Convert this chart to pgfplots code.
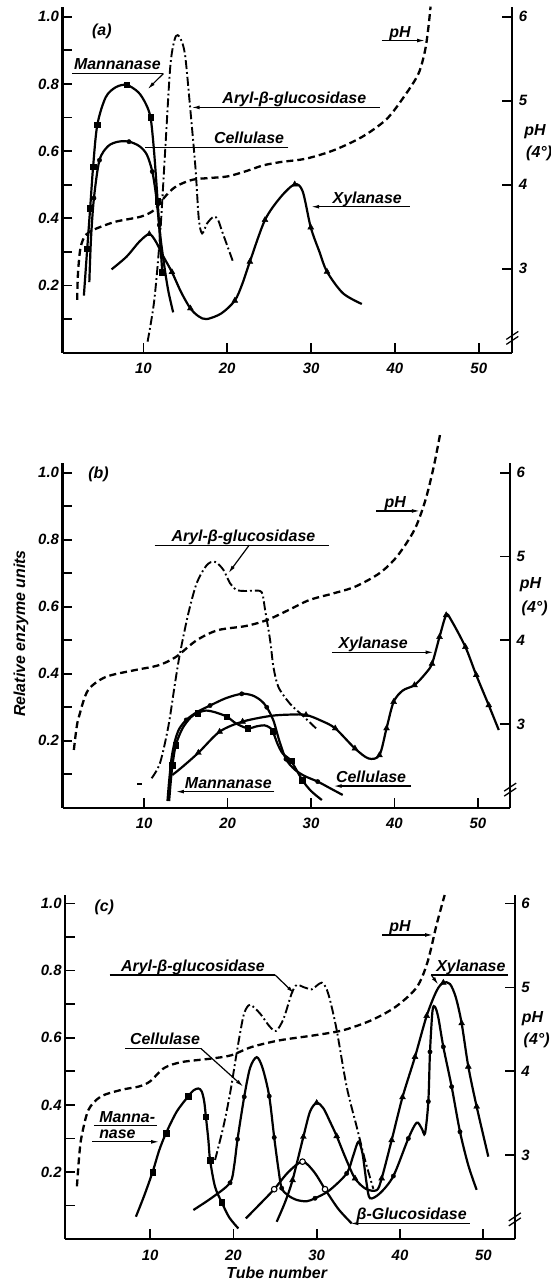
\documentclass[border=0pt]{standalone}
\usepackage{fontspec}
\setmainfont{Liberation Sans}
\usepackage{pgfplots}
\pgfplotsset{compat=1.18}
\usetikzlibrary{arrows.meta}

\newcommand{\lab}{\fontsize{16}{18}\selectfont\bfseries\itshape}
\newcommand{\tk}{\fontsize{15}{17}\selectfont\bfseries\itshape}

\tikzset{
  ann/.style={line width=1.2bp},
  arr/.style={line width=1.2bp,-{Latex[length=8bp,width=3.8bp]}},
  ul/.style={font=\lab,anchor=base,yshift=3.5bp},
  brk/.style={line width=1.3bp},
}
\pgfplotsset{
  base/.style={scale only axis, clip=false, anchor=south west,
    axis line style={line width=2.2bp,-},
    tick style={line width=1.7bp,black},
    major tick length=10bp, minor tick length=10bp, tick align=inside,
    ticklabel style={font=\tk},
    /pgf/number format/assume math mode=true},
  leftax/.style={base, axis x line*=bottom, axis y line*=left,
    xtick={10,20,30,40,50},
    ytick={0.2,0.4,0.6,0.8,1.0},
    minor ytick={0.1,0.3,0.5,0.7,0.9},
    ymin=0,
    yticklabel style={/pgf/number format/.cd,fixed,fixed zerofill,precision=1},
    xticklabel style={yshift=-7bp}},
  rightax/.style={base, axis x line=none, axis y line*=right,
    ytick={3,4,5,6}, ymin=2, yticklabel style={xshift=3bp}},
  sol/.style={black, line width=2.2bp, smooth, tension=0.5, mark=none},
  phl/.style={black, line width=2.3bp, smooth, tension=0.5, mark=none, dash pattern=on 7bp off 4bp},
  ary/.style={black, line width=1.9bp, smooth, tension=0.5, mark=none, dash pattern=on 9bp off 3bp on 1.8bp off 3bp},
  msq/.style={black, only marks, mark=square*, mark size=2.8bp},
  mtr/.style={black, only marks, mark=triangle*, mark size=3.4bp},
  mci/.style={black, only marks, mark=*, mark size=2.2bp},
  mop/.style={black, only marks, mark=*, mark size=2.8bp, mark options={fill=white, line width=1.1bp}},
}

\begin{document}
\begin{tikzpicture}
\useasboundingbox (0,0) rectangle (551bp,-1283bp);

%%%%%%%%%%%%%%%%%%%% Panel (a)
\begin{axis}[leftax, at={(62.5bp,-352.7bp)}, width=449.8bp, height=346.1bp,
  xmin=0.35, xmax=54, ymax=1.03]
% Mannanase
\addplot[sol] coordinates {(2.9,0.17)(3.1,0.24)(3.3,0.31)(3.65,0.43)(4.0,0.553)(4.5,0.678)(5.5,0.76)(6.7,0.79)(8.0,0.797)(9.4,0.775)(10.3,0.74)(10.85,0.70)(11.2,0.62)(11.45,0.54)(11.7,0.45)(11.95,0.35)(12.25,0.24)};
\addplot[msq] coordinates {(3.3,0.31)(3.65,0.43)(4.0,0.553)(4.5,0.678)(8.0,0.797)(10.85,0.70)(11.7,0.45)(12.25,0.24)};
% Cellulase
\addplot[sol] coordinates {(3.55,0.21)(3.75,0.34)(4.1,0.46)(4.76,0.573)(5.8,0.615)(7.0,0.628)(8.28,0.628)(9.5,0.615)(10.4,0.59)(11.06,0.539)(11.5,0.47)(11.8,0.40)(12.1,0.33)(12.6,0.24)(13.0,0.18)(13.55,0.12)};
\addplot[mci] coordinates {(4.1,0.46)(4.76,0.573)(8.28,0.628)(11.06,0.539)(11.9,0.38)};
% Xylanase
\addplot[sol] coordinates {(6.2,0.248)(8.0,0.286)(9.5,0.33)(10.7,0.353)(11.5,0.33)(12.3,0.29)(13.4,0.24)(14.5,0.18)(15.6,0.132)(16.6,0.108)(17.55,0.100)(19.3,0.117)(20.9,0.155)(21.8,0.205)(22.7,0.271)(24.5,0.395)(26.4,0.464)(28.05,0.501)(29.0,0.48)(29.96,0.373)(31.0,0.30)(31.9,0.241)(33.8,0.177)(36.05,0.145)};
\addplot[mtr] coordinates {(10.7,0.353)(13.4,0.24)(15.6,0.132)(20.9,0.155)(22.7,0.271)(24.5,0.395)(28.05,0.501)(29.96,0.373)(31.9,0.241)};
% Aryl-beta-glucosidase
\addplot[ary] coordinates {(10.5,0.033)(11.3,0.157)(12.0,0.355)(12.6,0.603)(13.2,0.85)(13.7,0.93)(14.1,0.945)(14.6,0.925)(15.0,0.88)(15.5,0.75)(16.2,0.553)(16.6,0.40)(17.0,0.355)(17.6,0.385)(18.4,0.405)(18.9,0.395)(19.4,0.36)(20.7,0.27)};
% annotations
\node[font=\lab] at (axis cs:5.05,0.955) {(a)};
\node[ul] at (axis cs:6.9,0.831) {Mannanase};
\draw[ann] (axis cs:1.49,0.831) -- (axis cs:12.39,0.831);
\draw[arr] (axis cs:12.39,0.831) -- (axis cs:10.5,0.784);
\node[ul] at (axis cs:28.0,0.730) {Aryl-β-glucosidase};
\draw[arr] (axis cs:38.2,0.730) -- (axis cs:15.74,0.730);
\node[ul] at (axis cs:22.6,0.611) {Cellulase};
\draw[ann] (axis cs:27.3,0.611) -- (axis cs:10.2,0.611);
\node[ul] at (axis cs:36.7,0.4345) {Xylanase};
\draw[arr] (axis cs:41.74,0.4345) -- (axis cs:30.0,0.4345);
\node[ul] at (axis cs:40.6,0.929) {pH};
\draw[arr] (axis cs:38.4,0.929) -- (axis cs:43.6,0.929);
\end{axis}
\begin{axis}[rightax, at={(62.5bp,-352.7bp)}, width=449.8bp, height=346.1bp,
  xmin=0.35, xmax=54, ymax=6.12]
\addplot[phl] coordinates {(2.1,2.63)(2.2,2.95)(2.5,3.25)(3.1,3.40)(4.2,3.47)(6.7,3.56)(9.7,3.62)(11.3,3.70)(12.6,3.86)(13.9,3.98)(15.9,4.06)(18.0,4.08)(20.1,4.10)(22.2,4.16)(24.3,4.23)(26.4,4.27)(29.4,4.31)(32.7,4.41)(36.1,4.57)(39.0,4.78)(41.1,5.05)(42.8,5.32)(43.6,5.6)(44.0,5.88)(44.25,6.12)};
\node[font=\lab] at (axis cs:56.7,4.63) {pH};
\node[font=\lab] at (axis cs:57.2,4.37) {(4°)};
\draw[brk] ([xshift=-6bp,yshift=-6bp]axis cs:54,2.17) -- ([xshift=6bp,yshift=2bp]axis cs:54,2.17);
\draw[brk] ([xshift=-6bp,yshift=-1bp]axis cs:54,2.17) -- ([xshift=6bp,yshift=7bp]axis cs:54,2.17);
\end{axis}

%%%%%%%%%%%%%%%%%%%% Panel (b)
\begin{axis}[leftax, at={(62.5bp,-807.7bp)}, width=447.7bp, height=345bp,
  xmin=0.22, xmax=53.87, ymax=1.03]
% Mannanase
\addplot[sol] coordinates {(13.0,0.02)(13.2,0.08)(13.4,0.127)(13.8,0.187)(14.6,0.237)(15.6,0.27)(16.4,0.283)(17.4,0.29)(18.5,0.285)(19.9,0.272)(21.0,0.252)(22.4,0.237)(23.5,0.243)(24.4,0.246)(25.0,0.24)(25.4,0.229)(26.0,0.19)(26.6,0.162)(27.6,0.14)(28.95,0.083)(30.0,0.05)(31.3,0.023)};
\addplot[msq] coordinates {(13.4,0.127)(13.8,0.187)(16.4,0.283)(19.9,0.272)(22.4,0.237)(25.4,0.229)(27.6,0.14)(28.95,0.083)};
% Cellulase
\addplot[sol] coordinates {(12.8,0.02)(13.0,0.08)(13.3,0.15)(13.7,0.2)(14.2,0.235)(15.05,0.262)(16.3,0.285)(17.9,0.305)(19.8,0.327)(21.7,0.34)(23.0,0.335)(24.0,0.32)(24.7,0.30)(25.5,0.26)(26.2,0.20)(27.0,0.145)(28.0,0.115)(29.2,0.095)(30.8,0.078)(32.3,0.058)(33.8,0.038)};
\addplot[mci] coordinates {(15.05,0.262)(17.9,0.305)(21.7,0.34)(24.7,0.30)(27.0,0.145)(30.8,0.078)};
% Xylanase
\addplot[sol] coordinates {(13.37,0.0975)(14.5,0.12)(16.5,0.164)(19.05,0.227)(21.8,0.257)(25.15,0.274)(27.5,0.278)(29.4,0.277)(31.2,0.26)(32.9,0.237)(35.26,0.177)(36.9,0.147)(38.2,0.157)(39.05,0.237)(39.9,0.316)(41.0,0.35)(42.4,0.366)(43.7,0.40)(44.5,0.43)(45.4,0.51)(46.2,0.575)(46.8,0.56)(48.5,0.48)(49.8,0.396)(51.3,0.306)(52.5,0.232)};
\addplot[mtr] coordinates {(16.5,0.164)(19.05,0.227)(21.8,0.257)(29.4,0.277)(32.9,0.237)(35.26,0.177)(38.2,0.157)(39.05,0.237)(39.9,0.316)(42.4,0.366)(44.5,0.43)(45.4,0.51)(46.2,0.575)(48.5,0.48)(49.8,0.396)(51.3,0.306)};
% Aryl-beta-glucosidase
\addplot[ary] coordinates {(9.15,0.072)(9.7,0.072)};
\addplot[ary] coordinates {(10.9,0.088)(11.9,0.133)(12.9,0.242)(13.7,0.371)(14.3,0.461)(15.3,0.58)(16.3,0.67)(17.5,0.724)(18.5,0.734)(19.5,0.71)(20.3,0.67)(21.1,0.65)(22.2,0.647)(23.1,0.648)(24.1,0.643)(24.5,0.59)(25.1,0.50)(25.5,0.42)(26.1,0.36)(27.5,0.31)(29.0,0.275)(30.6,0.237)};
% annotations
\node[font=\lab] at (axis cs:4.53,0.996) {(b)};
\node[ul] at (axis cs:40.1,0.886) {pH};
\draw[arr] (axis cs:37.8,0.886) -- (axis cs:43.05,0.886);
\node[ul] at (axis cs:21.9,0.784) {Aryl-β-glucosidase};
\draw[ann] (axis cs:11.26,0.784) -- (axis cs:32.1,0.784);
\draw[arr] (axis cs:22.6,0.784) -- (axis cs:20.1,0.70);
\node[ul] at (axis cs:37.45,0.464) {Xylanase};
\draw[arr] (axis cs:32.5,0.464) -- (axis cs:44.7,0.464);
\node[ul] at (axis cs:37.2,0.0647) {Cellulase};
\draw[arr] (axis cs:42.0,0.0647) -- (axis cs:32.7,0.0647);
\node[ul] at (axis cs:20.1,0.048) {Mannanase};
\draw[arr] (axis cs:25.6,0.048) -- (axis cs:13.8,0.048);
\node[font=\lab, rotate=90] at (axis cs:-4.75,0.52) {Relative enzyme units};
\end{axis}
\begin{axis}[rightax, at={(62.5bp,-807.7bp)}, width=447.7bp, height=345bp,
  xmin=0.22, xmax=53.87, ymax=6.12]
\addplot[phl] coordinates {(1.58,2.69)(1.9,2.95)(2.2,3.09)(3.26,3.40)(5.37,3.56)(8.74,3.64)(11.7,3.70)(13.8,3.80)(16.3,4.0)(18.84,4.12)(22.2,4.17)(24.7,4.24)(27.3,4.36)(29.8,4.48)(32.7,4.56)(35.3,4.64)(38.2,4.80)(40.3,5.0)(42.4,5.32)(43.7,5.67)(44.7,6.07)(45.45,6.45)};
\node[font=\lab] at (axis cs:56.3,4.66) {pH};
\node[font=\lab] at (axis cs:56.8,4.38) {(4°)};
\draw[brk] ([xshift=-6bp,yshift=-6bp]axis cs:53.87,2.21) -- ([xshift=6bp,yshift=2bp]axis cs:53.87,2.21);
\draw[brk] ([xshift=-6bp,yshift=-1bp]axis cs:53.87,2.21) -- ([xshift=6bp,yshift=7bp]axis cs:53.87,2.21);
\end{axis}

%%%%%%%%%%%%%%%%%%%% Panel (c)
\begin{axis}[leftax, at={(65.1bp,-1239.2bp)}, width=449.7bp, height=344.2bp,
  xmin=-0.2, xmax=53.78, ymax=1.025]
% Mannanase
\addplot[sol] coordinates {(8.3,0.067)(9.3,0.13)(10.3,0.20)(11.1,0.265)(11.9,0.315)(13.2,0.38)(14.6,0.426)(15.2,0.443)(15.8,0.449)(16.2,0.44)(16.5,0.41)(16.7,0.365)(17.0,0.295)(17.2,0.236)(17.8,0.156)(18.6,0.11)(19.5,0.065)(20.6,0.032)};
\addplot[msq] coordinates {(10.3,0.20)(11.9,0.315)(14.6,0.426)(16.7,0.365)(17.2,0.236)(18.6,0.11)};
% Cellulase
\addplot[sol] coordinates {(15.2,0.087)(17.5,0.125)(19.6,0.168)(20.1,0.22)(20.5,0.298)(21.3,0.424)(22.0,0.51)(22.8,0.542)(23.5,0.51)(24.3,0.426)(24.9,0.303)(25.4,0.21)(25.8,0.152)(26.6,0.13)(27.6,0.117)(28.8,0.113)(29.8,0.122)(31.5,0.145)(33.6,0.196)(34.4,0.25)(35.0,0.29)(35.5,0.255)(36.0,0.165)(36.4,0.122)(37.6,0.137)(39.2,0.188)(41.0,0.30)(42.0,0.347)(42.6,0.33)(43.0,0.315)(43.4,0.41)(43.6,0.558)(43.9,0.68)(44.2,0.692)(44.6,0.66)(45.2,0.573)(46.2,0.454)(47.2,0.32)(48.2,0.22)(49.2,0.147)};
\addplot[mci] coordinates {(19.6,0.168)(20.5,0.298)(21.3,0.424)(24.3,0.426)(24.9,0.303)(25.8,0.152)(29.8,0.122)(33.6,0.196)(39.2,0.188)(41.0,0.30)(43.4,0.41)(43.6,0.558)(45.2,0.573)(46.2,0.454)(47.2,0.32)};
% Xylanase
\addplot[sol] coordinates {(25.2,0.052)(26.2,0.11)(27.1,0.176)(28.4,0.305)(29.2,0.38)(30.0,0.406)(30.8,0.39)(31.6,0.35)(32.4,0.307)(33.5,0.24)(34.6,0.181)(35.9,0.15)(37.2,0.146)(37.8,0.181)(39.0,0.295)(40.3,0.423)(41.8,0.543)(43.2,0.665)(44.4,0.74)(45.2,0.764)(46.0,0.76)(46.7,0.72)(47.4,0.643)(48.2,0.514)(49.2,0.395)(50.6,0.246)};
\addplot[mtr] coordinates {(27.1,0.176)(28.4,0.305)(30.0,0.406)(32.4,0.307)(34.6,0.181)(37.8,0.181)(39.0,0.295)(40.3,0.423)(41.8,0.543)(43.2,0.665)(45.2,0.764)(47.4,0.643)(48.2,0.514)(49.2,0.395)};
% beta-Glucosidase
\addplot[sol] coordinates {(21.5,0.062)(23.2,0.105)(24.9,0.149)(26.6,0.2)(28.3,0.231)(29.7,0.2)(31.0,0.149)(32.6,0.09)(34.2,0.047)};
\addplot[mop] coordinates {(24.9,0.149)(28.3,0.231)(31.0,0.149)};
% Aryl-beta-glucosidase
\addplot[ary] coordinates {(17.8,0.236)(18.8,0.335)(19.6,0.434)(20.3,0.54)(20.8,0.613)(21.3,0.673)(22.0,0.698)(23.2,0.672)(24.3,0.635)(25.1,0.62)(26.0,0.655)(27.0,0.732)(27.6,0.757)(28.5,0.75)(29.4,0.744)(30.0,0.755)(30.6,0.764)(31.1,0.75)(31.6,0.712)(32.4,0.623)(33.6,0.454)(34.8,0.335)(35.8,0.236)(36.8,0.15)};
% annotations
\node[font=\lab] at (axis cs:4.5,0.988) {(c)};
\node[ul] at (axis cs:40.0,0.906) {pH};
\draw[arr] (axis cs:37.85,0.906) -- (axis cs:43.97,0.906);
\node[ul] at (axis cs:15.15,0.787) {Aryl-β-glucosidase};
\draw[ann] (axis cs:5.15,0.787) -- (axis cs:25.0,0.787);
\draw[arr] (axis cs:25.0,0.787) -- (axis cs:27.3,0.732);
\node[ul] at (axis cs:48.5,0.787) {Xylanase};
\draw[ann] (axis cs:43.75,0.787) -- (axis cs:53.0,0.787);
\draw[arr] (axis cs:43.75,0.787) -- (axis cs:44.6,0.758);
\node[ul] at (axis cs:11.8,0.568) {Cellulase};
\draw[ann] (axis cs:7.05,0.568) -- (axis cs:16.1,0.568);
\draw[arr] (axis cs:16.1,0.568) -- (axis cs:21.2,0.454);
\node[ul] at (axis cs:7.26,0.338) {Manna-};
\draw[ann] (axis cs:3.25,0.338) -- (axis cs:10.84,0.338);
\node[ul] at (axis cs:6.08,0.29) {nase};
\draw[arr] (axis cs:3.04,0.29) -- (axis cs:11.1,0.29);
\node[ul] at (axis cs:41.4,0.047) {β-Glucosidase};
\draw[arr] (axis cs:48.4,0.047) -- (axis cs:34.05,0.047);
\node[font=\lab] at (axis cs:25.2,0) [yshift=-34bp] {Tube number};
\end{axis}
\begin{axis}[rightax, at={(65.1bp,-1239.2bp)}, width=449.7bp, height=344.2bp,
  xmin=-0.2, xmax=53.78, ymax=6.1]
\addplot[phl] coordinates {(1.22,2.63)(1.5,3.0)(1.77,3.22)(2.6,3.54)(4.1,3.70)(6.6,3.78)(8.7,3.82)(10.0,3.88)(11.7,4.04)(13.8,4.11)(17.2,4.15)(19.7,4.19)(22.2,4.29)(25.6,4.37)(29.8,4.43)(33.2,4.49)(36.6,4.61)(39.5,4.77)(42.0,5.0)(43.3,5.3)(44.4,5.75)(45.36,6.10)};
\node[font=\lab] at (axis cs:55.9,4.63) {pH};
\node[font=\lab] at (axis cs:56.4,4.37) {(4°)};
\draw[brk] ([xshift=-6bp,yshift=-6bp]axis cs:53.78,2.23) -- ([xshift=6bp,yshift=2bp]axis cs:53.78,2.23);
\draw[brk] ([xshift=-6bp,yshift=-1bp]axis cs:53.78,2.23) -- ([xshift=6bp,yshift=7bp]axis cs:53.78,2.23);
\end{axis}
\end{tikzpicture}
\end{document}
